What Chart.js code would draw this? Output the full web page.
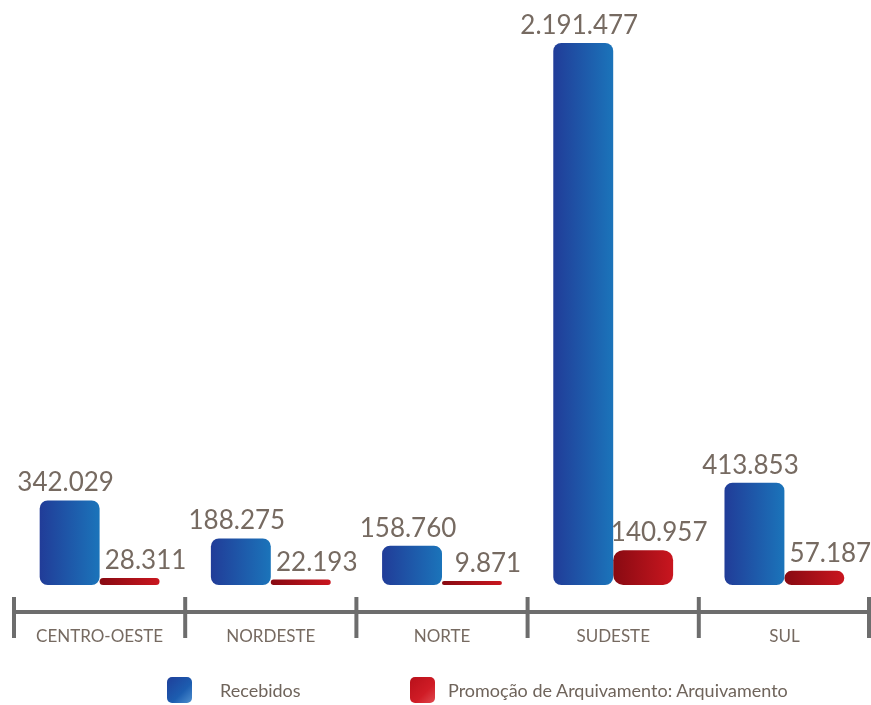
<!DOCTYPE html>
<html>
<head>
<meta charset="utf-8">
<script src="https://cdn.jsdelivr.net/npm/chart.js@4.4.1/dist/chart.umd.min.js"></script>
<style>
  html, body { margin: 0; padding: 0; background: #fff; }
  #wrap { position: relative; width: 871px; height: 705px; }
  .leg { position: absolute; top: 677px; height: 26px; display: flex; align-items: center;
         font-family: Lato, "Noto Sans", sans-serif; font-size: 18px; color: #6f645b; white-space: nowrap; }
  .box { width: 25px; height: 26px; border-radius: 5px; }
  .blue { background: linear-gradient(135deg, #1f3f9a 0%, #1c5db0 60%, #4f90d0 100%); }
  .red { background: linear-gradient(135deg, #b8101a 0%, #d01c26 60%, #e04a50 100%); }
</style>
</head>
<body>
<div id="wrap">
  <canvas id="chart" width="871" height="705"></canvas>
  <div class="leg" style="left:167px"><div class="box blue" style="margin-right:28px"></div>Recebidos</div>
  <div class="leg" style="left:410px"><div class="box red" style="margin-right:13px"></div>Promoção de Arquivamento: Arquivamento</div>
</div>
<script>
const regioes = ["CENTRO-OESTE", "NORDESTE", "NORTE", "SUDESTE", "SUL"];
const recebidos = [342029, 188275, 158760, 2191477, 413853];
const arquivamento = [28311, 22193, 9871, 140957, 57187];

const textColor = "#766a61";

function fmt(v) {
  return String(v).replace(/\B(?=(\d{3})+(?!\d))/g, ".");
}

// horizontal gradient across each bar, from the scale's own geometry
function barGradient(dark, light, side) {
  return (c) => {
    const chart = c.chart;
    const x = chart.scales.x;
    if (!chart.chartArea || !x || c.dataIndex == null) return dark;
    const cat = x.width / regioes.length;
    const group = cat * 0.7;
    const center = x.getPixelForValue(c.dataIndex);
    const x0 = side === 0 ? center - group / 2 : center;
    const g = chart.ctx.createLinearGradient(x0, 0, x0 + group / 2, 0);
    g.addColorStop(0, dark);
    g.addColorStop(1, light);
    return g;
  };
}

const valueLabels = {
  id: "valueLabels",
  afterDatasetsDraw(chart) {
    const ctx = chart.ctx;
    ctx.save();
    ctx.font = "26px Lato, 'Noto Sans', sans-serif";
    ctx.fillStyle = textColor;
    ctx.textAlign = "center";
    ctx.textBaseline = "alphabetic";
    chart.data.datasets.forEach((ds, di) => {
      chart.getDatasetMeta(di).data.forEach((el, i) => {
        const dx = di === 1 ? 16 : -4;
        ctx.fillText(fmt(ds.data[i]), el.x + dx, el.y - 9);
      });
    });
    ctx.restore();
  }
};

// axis line with boundary ticks and category names under it
const axisLine = {
  id: "axisLine",
  afterDraw(chart) {
    const ctx = chart.ctx;
    const x = chart.scales.x;
    const y = chart.chartArea.bottom + 27;
    ctx.save();
    ctx.strokeStyle = "#6d6d6d";
    ctx.lineWidth = 4;
    ctx.beginPath();
    ctx.moveTo(x.left, y);
    ctx.lineTo(chart.width, y);
    ctx.stroke();
    for (let i = 0; i <= regioes.length; i++) {
      const px = Math.min(x.getPixelForValue(i - 0.5), chart.width - 2);
      ctx.beginPath();
      ctx.moveTo(px, y - 15);
      ctx.lineTo(px, y + 26);
      ctx.stroke();
    }
    ctx.font = "17px Lato, 'Noto Sans', sans-serif";
    ctx.fillStyle = textColor;
    ctx.textAlign = "center";
    ctx.textBaseline = "middle";
    regioes.forEach((r, i) => ctx.fillText(r, x.getPixelForValue(i), y + 25));
    ctx.restore();
  }
};

new Chart(document.getElementById("chart"), {
  type: "bar",
  data: {
    labels: regioes,
    datasets: [
      {
        label: "Recebidos",
        data: recebidos,
        backgroundColor: barGradient("#213c98", "#1b74ba", 0),
        borderRadius: 8,
        borderSkipped: false
      },
      {
        label: "Promoção de Arquivamento: Arquivamento",
        data: arquivamento,
        backgroundColor: barGradient("#880a12", "#c9161f", 1),
        borderRadius: 10,
        borderSkipped: false,
        minBarLength: 4
      }
    ]
  },
  options: {
    responsive: false,
    animation: false,
    layout: { padding: { top: 43, left: 14, right: 1, bottom: 120 } },
    datasets: { bar: { categoryPercentage: 0.7, barPercentage: 1.0 } },
    scales: {
      x: {
        display: false
      },
      y: {
        display: false,
        min: 0,
        max: Math.max(...recebidos)
      }
    },
    plugins: {
      legend: { display: false },
      tooltip: { enabled: false }
    }
  },
  plugins: [valueLabels, axisLine]
});
</script>
</body>
</html>
